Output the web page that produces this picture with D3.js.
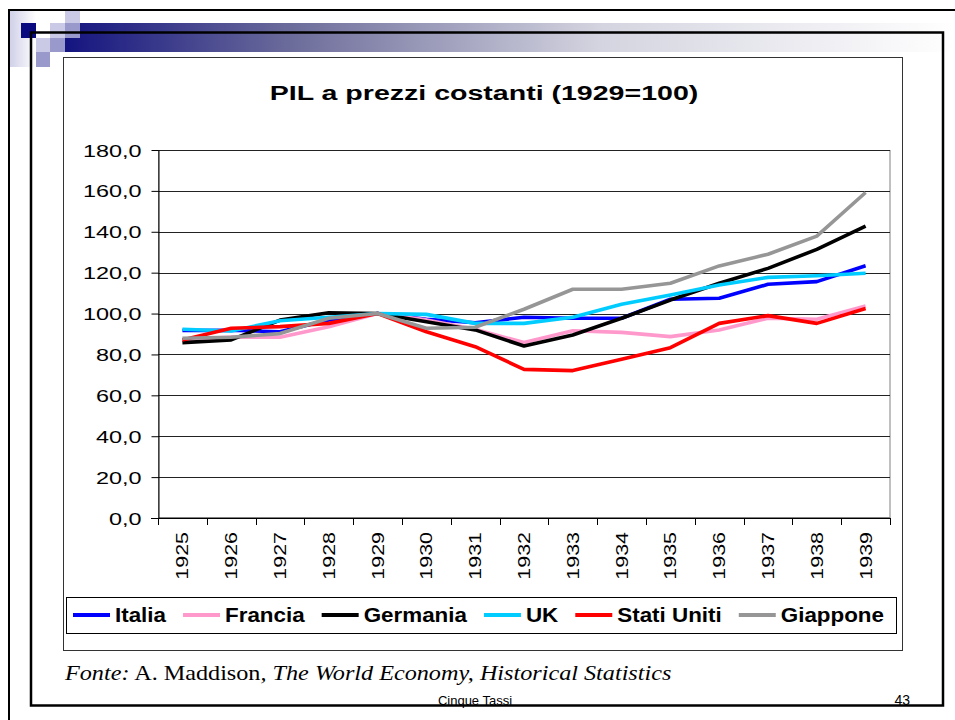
<!DOCTYPE html>
<meta charset="utf-8">
<style>
body { margin: 0; background: #fff; }
svg text { font-family: "Liberation Sans", Arial, sans-serif; }
.grid line { stroke: #222; stroke-width: 1; shape-rendering: crispEdges; }
.series { fill: none; stroke-width: 3.6px; stroke-linejoin: round; }
</style>
<svg width="955" height="720"></svg>
<script src="https://d3js.org/d3.v7.min.js"></script>
<script>

var years = [1925, 1926, 1927, 1928, 1929, 1930, 1931, 1932, 1933, 1934, 1935, 1936, 1937, 1938, 1939];
var yTicks = [0, 20, 40, 60, 80, 100, 120, 140, 160, 180];

var italia     = [91.7, 91.8, 91.1, 96.9, 100, 97.2, 95.5, 98.2, 97.7, 97.7, 107.0, 107.5, 114.3, 115.6, 123.4];
var francia    = [87.0, 88.5, 88.4, 93.6, 100, 96.9, 92.3, 85.8, 91.6, 90.8, 88.7, 92.0, 97.7, 97.2, 103.7];
var germania   = [85.8, 87.1, 96.8, 100.4, 100, 96.0, 92.0, 84.1, 89.5, 97.7, 106.6, 114.8, 122.1, 131.4, 142.8];
var uk         = [92.3, 91.5, 96.5, 98.2, 100, 99.6, 95.2, 95.2, 98.2, 104.5, 109.1, 114.0, 117.7, 118.5, 119.7];
var statiUniti = [87.1, 92.8, 93.6, 95.2, 100, 91.1, 83.8, 72.7, 72.1, 77.6, 83.3, 95.2, 99.0, 95.2, 102.5];
var giappone   = [87.9, 88.4, 90.2, 97.7, 100, 92.8, 93.3, 102.1, 111.9, 111.9, 114.8, 123.3, 129.0, 137.9, 159.2];

var seriesNames  = ["Italia", "Francia", "Germania", "UK", "Stati Uniti", "Giappone"];
var seriesValues = [italia, francia, germania, uk, statiUniti, giappone];
var seriesColors = ["#0000ff", "#ff99cc", "#000000", "#00ccff", "#ff0000", "#969696"];

var svg = d3.select("svg");

// ---- slide decoration ----
var defs = svg.append("defs");
var bar = defs.append("linearGradient").attr("id", "bar")
    .attr("gradientUnits", "userSpaceOnUse").attr("x1", 65).attr("x2", 955).attr("y1", 0).attr("y2", 0);
bar.append("stop").attr("offset", 0).attr("stop-color", "#141480");
bar.append("stop").attr("offset", 0.26).attr("stop-color", "#6e6e9c");
bar.append("stop").attr("offset", 0.6).attr("stop-color", "#d4d4e0");
bar.append("stop").attr("offset", 1).attr("stop-color", "#ffffff");
var side = defs.append("linearGradient").attr("id", "side");
side.append("stop").attr("offset", 0).attr("stop-color", "#d0d0e8");
side.append("stop").attr("offset", 1).attr("stop-color", "#ffffff");

svg.append("rect").attr("x", 10).attr("y", 11).attr("width", 26).attr("height", 56).attr("fill", "url(#side)");
svg.append("rect").attr("x", 65).attr("y", 23).attr("width", 890).attr("height", 29).attr("fill", "url(#bar)");
svg.append("rect").attr("x", 21).attr("y", 23).attr("width", 15).attr("height", 15).attr("fill", "#0a0a80");
svg.append("rect").attr("x", 65).attr("y", 11).attr("width", 15).attr("height", 12).attr("fill", "#cacae6");
svg.append("rect").attr("x", 50).attr("y", 23).attr("width", 15).attr("height", 15).attr("fill", "#cacae6");
svg.append("rect").attr("x", 65).attr("y", 23).attr("width", 15).attr("height", 15).attr("fill", "#9999cc");
svg.append("rect").attr("x", 36).attr("y", 38).attr("width", 14).attr("height", 14).attr("fill", "#cacae6");
svg.append("rect").attr("x", 50).attr("y", 38).attr("width", 15).attr("height", 14).attr("fill", "#9999cc");
svg.append("rect").attr("x", 36).attr("y", 52).attr("width", 14).attr("height", 15).attr("fill", "#9999cc");

// outer frame (top + left) and inner frame
svg.append("path").attr("d", "M9,720V10H955").attr("fill", "none").attr("stroke", "#000").attr("stroke-width", 2);
svg.append("rect").attr("x", 31).attr("y", 32.5).attr("width", 912).attr("height", 673)
    .attr("fill", "none").attr("stroke", "#000").attr("stroke-width", 2.5);

// ---- chart area ----
svg.append("rect").attr("x", 63.5).attr("y", 57.5).attr("width", 839).attr("height", 593)
    .attr("fill", "#fff").attr("stroke", "#333").attr("stroke-width", 1);

var x = d3.scaleBand().domain(years).range([158, 890]);
var y = d3.scaleLinear().domain([0, 180]).range([518, 150]);
var xc = function(i) { return x(years[i]) + x.bandwidth() / 2; };

svg.append("text")
    .attr("transform", "translate(484,100) scale(1.36,1)")
    .attr("text-anchor", "middle")
    .style("font-size", "21px").style("font-weight", "bold")
    .text("PIL a prezzi costanti (1929=100)");

// plot area border
svg.append("rect").attr("x", 158.5).attr("y", 150.5).attr("width", 731.5).attr("height", 367)
    .attr("fill", "none").attr("stroke", "#808080").attr("stroke-width", 1);

svg.append("g").attr("class", "grid")
  .selectAll("line")
  .data(yTicks.filter(function(d) { return d > 0; }))
  .enter().append("line")
    .attr("x1", 158).attr("x2", 890)
    .attr("y1", function(d) { return Math.round(y(d)) + 0.5; })
    .attr("y2", function(d) { return Math.round(y(d)) + 0.5; });

// y axis
var yAxis = svg.append("g").attr("transform", "translate(158.5,0)")
    .call(d3.axisLeft(y).tickValues(yTicks).tickSize(7).tickSizeOuter(0)
      .tickFormat(function(d) { return d3.format(".1f")(d).replace(".", ","); }));
yAxis.select(".domain").attr("stroke", "#000");
yAxis.selectAll(".tick line").attr("stroke", "#000");
yAxis.selectAll(".tick text")
    .attr("x", null).attr("dy", null)
    .attr("transform", "translate(-17,6) scale(1.42,1.03)")
    .attr("fill", "#000")
    .style("font-size", "16.5px").style("font-family", "Liberation Sans, Arial, sans-serif");

// x axis
var xAxis = svg.append("g");
xAxis.append("line").attr("x1", 151).attr("x2", 890).attr("y1", 518.5).attr("y2", 518.5).attr("stroke", "#000");
xAxis.selectAll(".xt")
  .data(years.map(function(d) { return x(d); }).concat([x.range()[1]]))
  .enter().append("line")
    .attr("x1", function(d) { return Math.round(d) + 0.5; })
    .attr("x2", function(d) { return Math.round(d) + 0.5; })
    .attr("y1", 518).attr("y2", 525).attr("stroke", "#000");
xAxis.selectAll("text")
  .data(years)
  .enter().append("text")
    .attr("transform", function(d, i) { return "translate(" + (xc(i) + 6) + ",532) rotate(-90) scale(1.3,1)"; })
    .attr("text-anchor", "end")
    .style("font-size", "16.5px")
    .text(function(d) { return d; });

// series
var line = d3.line()
    .x(function(d, i) { return xc(i); })
    .y(function(d) { return y(d); });

svg.append("g").selectAll("path")
  .data(seriesValues)
  .enter().append("path")
    .attr("class", "series")
    .attr("stroke", function(d, i) { return seriesColors[i]; })
    .attr("d", line);

// legend
svg.append("rect").attr("x", 66.5).attr("y", 597.5).attr("width", 830).attr("height", 36)
    .attr("fill", "#fff").attr("stroke", "#000").attr("stroke-width", 1);

var lg = svg.append("g");
var items = lg.selectAll("g").data(seriesNames).enter().append("g");
items.append("line").attr("x1", 0).attr("x2", 37).attr("y1", 615).attr("y2", 615)
    .attr("stroke", function(d, i) { return seriesColors[i]; }).attr("stroke-width", 4);
items.append("text")
    .attr("transform", "translate(42,622) scale(1.12,1)")
    .style("font-size", "20px").style("font-weight", "bold")
    .text(function(d) { return d; });

var widths = [];
items.select("text").each(function() { widths.push(this.getComputedTextLength() * 1.12); });
var itemW = widths.map(function(w) { return 42 + w; });
var gap = (884 - 73 - d3.sum(itemW)) / (seriesNames.length - 1);
var pos = 73;
items.attr("transform", function(d, i) {
  var t = "translate(" + pos + ",0)";
  pos += itemW[i] + gap;
  return t;
});

// footer
var src = svg.append("text").attr("transform", "translate(65,680) scale(1.1,1)")
    .style("font-family", "Liberation Serif, 'Times New Roman', serif").style("font-size", "22px");
src.append("tspan").style("font-style", "italic").text("Fonte:");
src.append("tspan").text(" A. Maddison");
src.append("tspan").style("font-style", "italic").text(", The World Economy, Historical Statistics");

svg.append("text").attr("x", 475).attr("y", 705).attr("text-anchor", "middle")
    .style("font-size", "13px").text("Cinque Tassi");
svg.append("text").attr("x", 910).attr("y", 705).attr("text-anchor", "end")
    .style("font-size", "14px").text("43");

</script>
